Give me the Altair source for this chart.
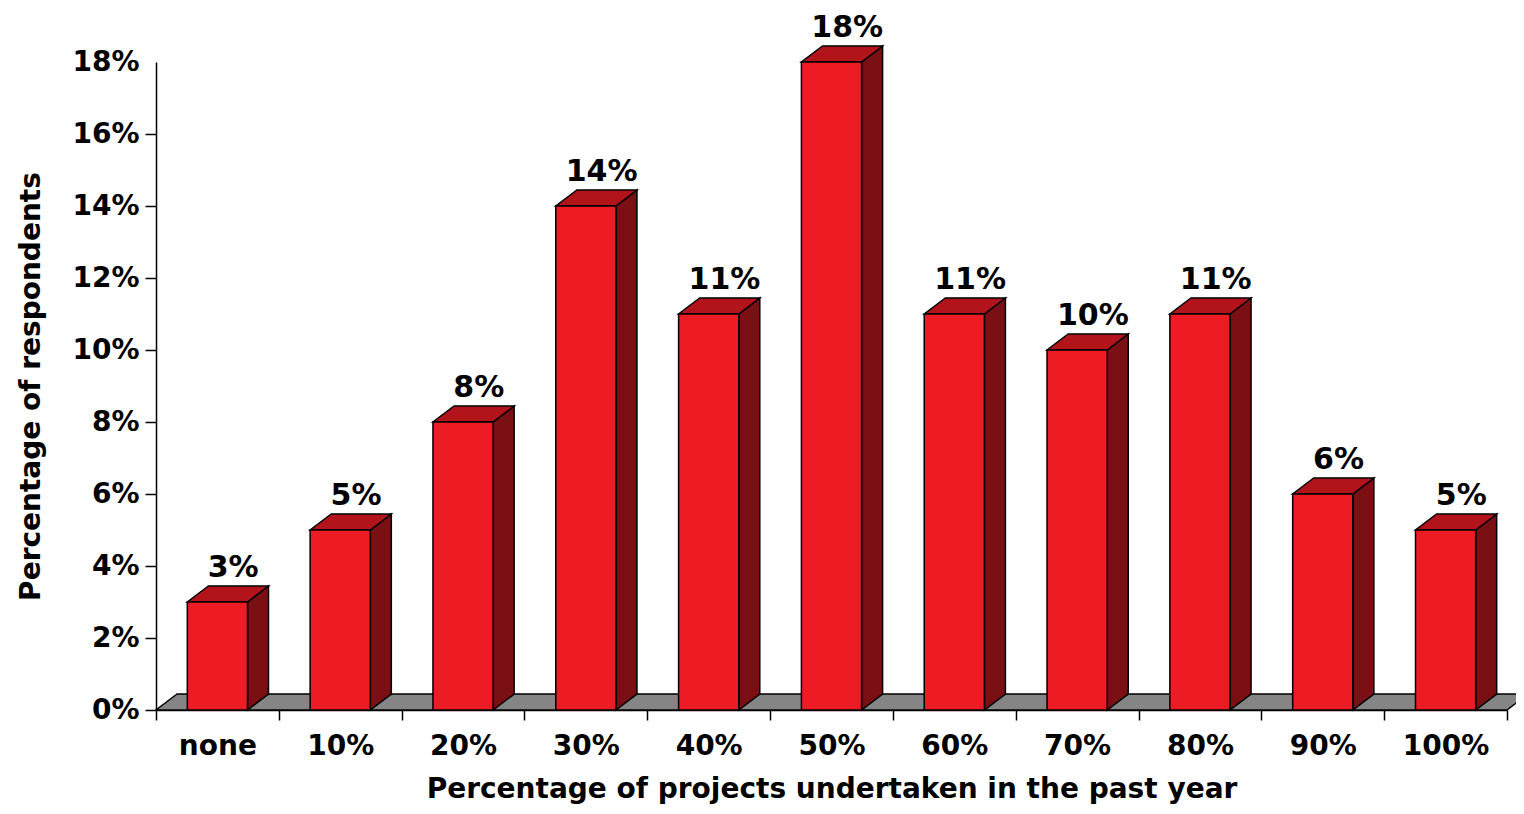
import altair as alt
import pandas as pd

# ---- data ----
categories = ["none", "10%", "20%", "30%", "40%", "50%", "60%", "70%", "80%", "90%", "100%"]
values = [3, 5, 8, 14, 11, 18, 11, 10, 11, 6, 5]
value_labels = ["3%", "5%", "8%", "14%", "11%", "18%", "11%", "10%", "11%", "6%", "5%"]
y_ticks = [0, 2, 4, 6, 8, 10, 12, 14, 16, 18]

# ---- styling constants (3-D look) ----
HALF = 0.245   # half width of a bar's front face, in category units
DX = 0.171     # depth shift to the right, in category units
DY = 0.444     # depth shift upwards, in y units (percent)
FONT = "DejaVu Sans"
FRONT = "#ED1C24"
TOP = "#B3141C"
SIDE = "#7A0F14"
FLOOR = "#858585"

n = len(categories)
front_df = pd.DataFrame({
    "i": list(range(n)),
    "x0": [i - HALF for i in range(n)],
    "x1": [i + HALF for i in range(n)],
    "v": values,
    "zero": [0] * n,
})

side_rows, top_rows, lab_rows = [], [], []
for i, v in enumerate(values):
    side_rows.append({"i": i, "x": i + HALF, "yt": v, "yb": 0})
    side_rows.append({"i": i, "x": i + HALF + DX, "yt": v + DY, "yb": DY})
    top_rows.append({"i": i, "y": v, "xl": i - HALF, "xr": i + HALF})
    top_rows.append({"i": i, "y": v + DY, "xl": i - HALF + DX, "xr": i + HALF + DX})
    lab_rows.append({"i": i, "x": i + DX * 0.75, "y": v + DY, "label": value_labels[i]})
side_df = pd.DataFrame(side_rows)
top_df = pd.DataFrame(top_rows)
lab_df = pd.DataFrame(lab_rows)
floor_df = pd.DataFrame({
    "y": [0, DY],
    "xl": [-0.5, -0.5 + DX],
    "xr": [n - 0.5, n - 0.5 + DX],
})

x_scale = alt.Scale(domain=[-0.5, n - 0.5], nice=False, zero=False)
y_scale = alt.Scale(domain=[0, 18], nice=False, zero=True)

X_TITLE = "Percentage of projects undertaken in the past year"
Y_TITLE = "Percentage of respondents"

label_array = "[" + ",".join("'" + c + "'" for c in categories) + "]"
x_axis = alt.Axis(
    values=[i - 0.5 for i in range(n + 1)],
    labelExpr=f"{label_array}[round(datum.value + 0.5)] || ''",
    labelOffset=61.4,
    labelOverlap=False,
    labelBound=False,
    labelFlush=False,
    tickSize=10,
    tickWidth=1.5,
    tickColor="black",
    domainColor="black",
    domainWidth=1.5,
    grid=False,
    labelFont=FONT,
    labelFontSize=28,
    labelFontWeight="bold",
    labelColor="black",
    labelPadding=12,
    titleFont=FONT,
    titleFontSize=28,
    titleFontWeight="bold",
    titleColor="black",
    titlePadding=15,
)
y_axis = alt.Axis(
    values=y_ticks,
    labelExpr="datum.value + '%'",
    tickSize=11,
    tickWidth=1.5,
    tickColor="black",
    tickOpacity={"condition": {"test": "datum.value >= 18", "value": 0}, "value": 1},
    domainColor="black",
    domainWidth=1.5,
    grid=False,
    labelFont=FONT,
    labelFontSize=28,
    labelFontWeight="bold",
    labelColor="black",
    labelPadding=6,
    titleFont=FONT,
    titleFontSize=28,
    titleFontWeight="bold",
    titleColor="black",
    titlePadding=26,
)


def X(field):
    return alt.X(field, scale=x_scale, axis=x_axis, title=X_TITLE)


def Y(field):
    return alt.Y(field, scale=y_scale, axis=y_axis, title=Y_TITLE)


floor = alt.Chart(floor_df).mark_area(
    orient="horizontal", color=FLOOR, stroke="black", strokeWidth=1.5, opacity=1
).encode(
    y=Y("y:Q"),
    x=X("xl:Q"),
    x2="xr:Q",
)

side = alt.Chart(side_df).mark_area(
    orient="vertical", color=SIDE, stroke="black", strokeWidth=1.5, opacity=1
).encode(
    x=X("x:Q"),
    y=Y("yt:Q"),
    y2="yb:Q",
    detail="i:N",
)

top = alt.Chart(top_df).mark_area(
    orient="horizontal", color=TOP, stroke="black", strokeWidth=1.5, opacity=1
).encode(
    y=Y("y:Q"),
    x=X("xl:Q"),
    x2="xr:Q",
    detail="i:N",
)

front = alt.Chart(front_df).mark_rect(
    color=FRONT, stroke="black", strokeWidth=1.5
).encode(
    x=X("x0:Q"),
    x2="x1:Q",
    y=Y("v:Q"),
    y2="zero:Q",
)

labels = alt.Chart(lab_df).mark_text(
    font=FONT, fontSize=30, fontWeight="bold", color="black",
    baseline="alphabetic", align="center", dy=-9
).encode(
    x=X("x:Q"),
    y=Y("y:Q"),
    text="label:N",
)

chart = alt.layer(floor, side, top, front, labels).properties(
    width=1351,
    height=648,
    autosize=alt.AutoSizeParams(type="none"),
    padding={"left": 148, "top": 54, "right": 9, "bottom": 96},
    background="white",
).configure_view(stroke=None)

chart.save("out.html", embed_options={"renderer": "svg", "actions": False})
